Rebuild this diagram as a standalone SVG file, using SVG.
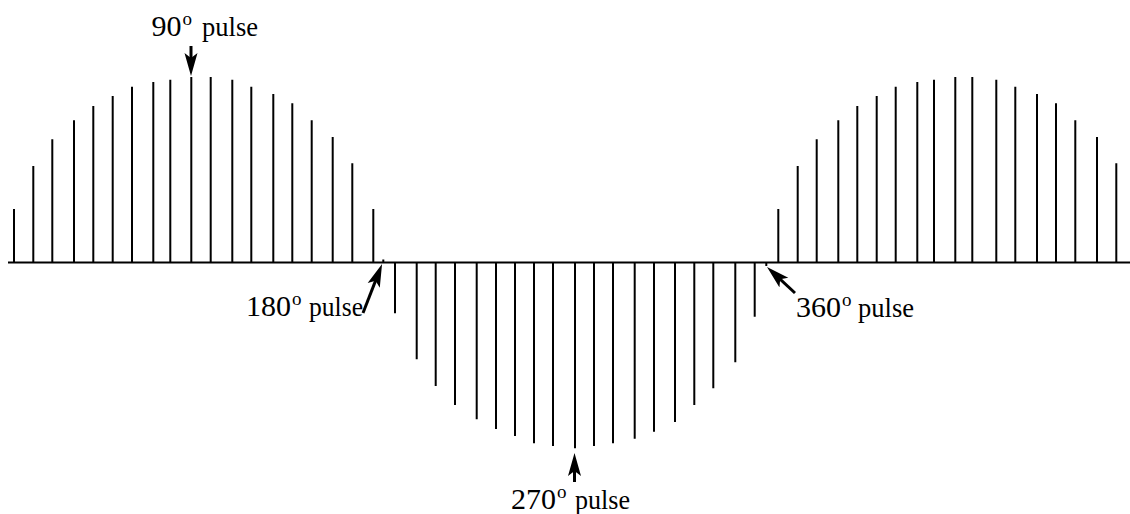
<svg xmlns="http://www.w3.org/2000/svg" width="1130" height="514" viewBox="0 0 1130 514">
<defs>
<style>
.p{stroke:#000;stroke-width:2;fill:none}
.ax{stroke:#000;stroke-width:2;fill:none}
.ar{stroke:#000;stroke-width:3;fill:none;marker-end:url(#ah)}
.t{font-family:"Liberation Serif","Times New Roman",serif;fill:#000}
.d{font-size:30px}
.s{font-size:19px}
.w{font-size:28px}
</style>
<marker id="ah" markerUnits="userSpaceOnUse" markerWidth="24" markerHeight="14" refX="14" refY="7" orient="auto">
<path d="M0,0.5 L23,7 L0,13.5 L5,7 Z" fill="#000"/>
</marker>
</defs>
<rect width="1130" height="514" fill="#fff"/>
<g id="connectors">
<line class="ax" x1="8" y1="262.5" x2="1130" y2="262.5"/>
<path class="p" d="M14,262V209M33.3,262V166M52.3,262V139.3M74,262V120.3M93.3,262V106M112.7,262V96M132,262V86.7M153.3,262V82M170.3,262V79.7M191.3,262V77M210.7,262V77M232.3,262V79.7M251.3,262V86.7M273.3,262V94M292.3,262V103.3M311.7,262V120.3M332.7,262V137M352.3,262V163.3M373.3,262V209"/>
<path class="p" d="M383.3,262V259.5"/>
<path class="p" d="M395,263V313.3M416.7,263V359.3M435.7,263V386M455,263V405M476.7,263V419.3M496,263V429M515,263V436M534,263V443.3M553,263V446M575,263V448.3M594,263V446M613,263V443.3M634.7,263V438.7M654,263V431.7M675,263V422M694.3,263V405M713.3,263V388.3M735.3,263V362.3M754.7,263V316.7"/>
<path class="p" d="M766.3,263V266"/>
<path class="p" d="M778.3,262V209M797.7,262V166M816.7,262V139.3M838.3,262V120.3M857.3,262V106M876.7,262V96M895.7,262V86.7M917.3,262V82M934,262V79.7M955.3,262V77M972.3,262V77M996.3,262V79.7M1015.3,262V86.7M1037,262V94M1056,262V103.3M1075.3,262V120.3M1097,262V137M1116.3,262V163.3"/>
<line class="ar" x1="191" y1="46" x2="191" y2="67"/>
<line class="ar" x1="363" y1="313" x2="378.8" y2="272.4"/>
<line class="ar" x1="574.5" y1="482" x2="574.5" y2="462"/>
<line class="ar" x1="795" y1="293" x2="773.6" y2="273.1"/>
</g>
<g id="label90">
<text class="t" y="35.5"><tspan class="d" x="151.5">90</tspan><tspan class="s" x="182.5" y="24.5">o</tspan><tspan class="w" x="202" y="35.5" textLength="56" lengthAdjust="spacingAndGlyphs">pulse</tspan></text>
</g>
<g id="label180">
<text class="t" y="315.5"><tspan class="d" x="246">180</tspan><tspan class="s" x="292" y="304.5">o</tspan><tspan class="w" x="309" y="315.5" textLength="54" lengthAdjust="spacingAndGlyphs">pulse</tspan></text>
</g>
<g id="label270">
<text class="t" y="508.5"><tspan class="d" x="511">270</tspan><tspan class="s" x="557" y="497.5">o</tspan><tspan class="w" x="575" y="508.5" textLength="55" lengthAdjust="spacingAndGlyphs">pulse</tspan></text>
</g>
<g id="label360">
<text class="t" y="316.5"><tspan class="d" x="796">360</tspan><tspan class="s" x="842" y="305.5">o</tspan><tspan class="w" x="858" y="316.5" textLength="56" lengthAdjust="spacingAndGlyphs">pulse</tspan></text>
</g>
</svg>
